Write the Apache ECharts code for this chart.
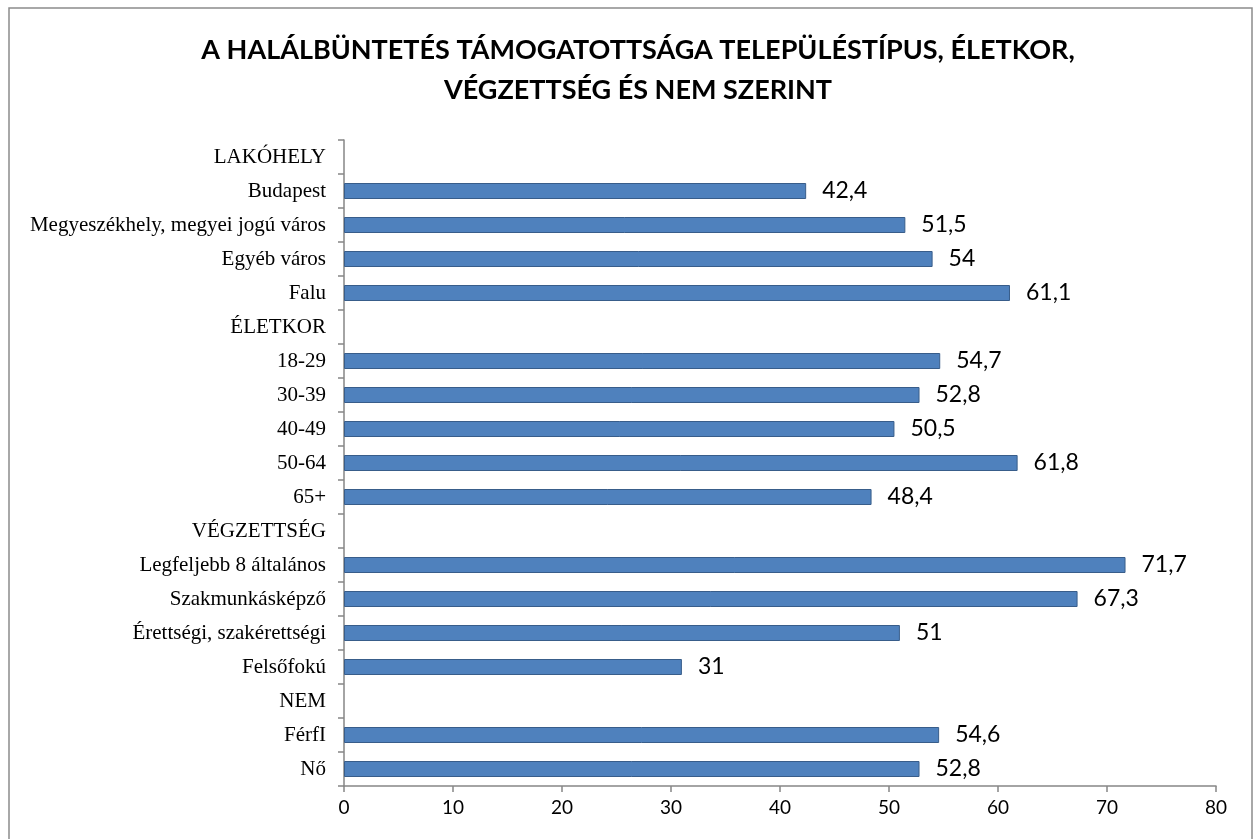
<!DOCTYPE html>
<html>
<head>
    <meta charset="UTF-8">
    <title>Halálbüntetés támogatottsága</title>
    <script src="https://cdn.jsdelivr.net/npm/echarts@6/dist/echarts.min.js"></script>
    <style>
        html, body { margin: 0; padding: 0; background: #fff; }
        #chart { width: 1258px; height: 839px; }
    </style>
</head>
<body>
<div id="chart"></div>
<script type="text/javascript">
    // kategóriák (fentről lefelé), a csoportcímeknek nincs oszlopa
    var categories = [
        'LAKÓHELY', 'Budapest', 'Megyeszékhely, megyei jogú város', 'Egyéb város', 'Falu',
        'ÉLETKOR', '18-29', '30-39', '40-49', '50-64', '65+',
        'VÉGZETTSÉG', 'Legfeljebb 8 általános', 'Szakmunkásképző', 'Érettségi, szakérettségi', 'Felsőfokú',
        'NEM', 'FérfI', 'Nő'
    ];
    // támogatottság (%)
    var values = [
        null, 42.4, 51.5, 54, 61.1,
        null, 54.7, 52.8, 50.5, 61.8, 48.4,
        null, 71.7, 67.3, 51, 31,
        null, 54.6, 52.8
    ];
    var xTicks = { min: 0, max: 80, interval: 10 };

    var chart = echarts.init(document.getElementById('chart'));

    var option = {
        backgroundColor: '#fff',
        animation: false,
        title: {
            text: 'A HALÁLBÜNTETÉS TÁMOGATOTTSÁGA TELEPÜLÉSTÍPUS, ÉLETKOR,\nVÉGZETTSÉG ÉS NEM SZERINT',
            left: 633,
            textAlign: 'center',
            top: 25,
            textStyle: {
                fontFamily: 'Lato',
                fontWeight: 'bold',
                fontSize: 27,
                lineHeight: 40,
                color: '#000'
            }
        },
        graphic: [{
            type: 'rect',
            shape: { x: 9, y: 8, width: 1243, height: 840 },
            style: { fill: 'none', stroke: '#8c8c8c', lineWidth: 1.5 },
            silent: true
        }],
        grid: {
            left: 344,
            right: 42,
            top: 140,
            bottom: 53
        },
        xAxis: {
            type: 'value',
            min: xTicks.min,
            max: xTicks.max,
            interval: xTicks.interval,
            splitLine: { show: false },
            axisLine: { show: true, lineStyle: { color: '#868686', width: 1.5 } },
            axisTick: { show: true, length: 6, lineStyle: { color: '#868686', width: 1.5 } },
            axisLabel: {
                fontFamily: 'Lato',
                fontSize: 19,
                color: '#000',
                margin: 12
            }
        },
        yAxis: {
            type: 'category',
            inverse: true,
            data: categories,
            axisLine: { show: true, lineStyle: { color: '#868686', width: 1.5 } },
            axisTick: { show: true, length: 6, lineStyle: { color: '#868686', width: 1.5 } },
            axisLabel: {
                fontFamily: 'Liberation Serif',
                fontSize: 21,
                color: '#000',
                margin: 18
            }
        },
        series: [{
            type: 'bar',
            data: values,
            barWidth: 16,
            itemStyle: {
                color: '#4F81BD',
                borderColor: '#385D8A',
                borderWidth: 1
            },
            label: {
                show: true,
                position: 'right',
                distance: 16,
                fontFamily: 'Lato',
                fontSize: 23,
                color: '#000',
                formatter: function (p) {
                    return String(p.value).replace('.', ',');
                }
            }
        }]
    };

    chart.setOption(option);
</script>
</body>
</html>
